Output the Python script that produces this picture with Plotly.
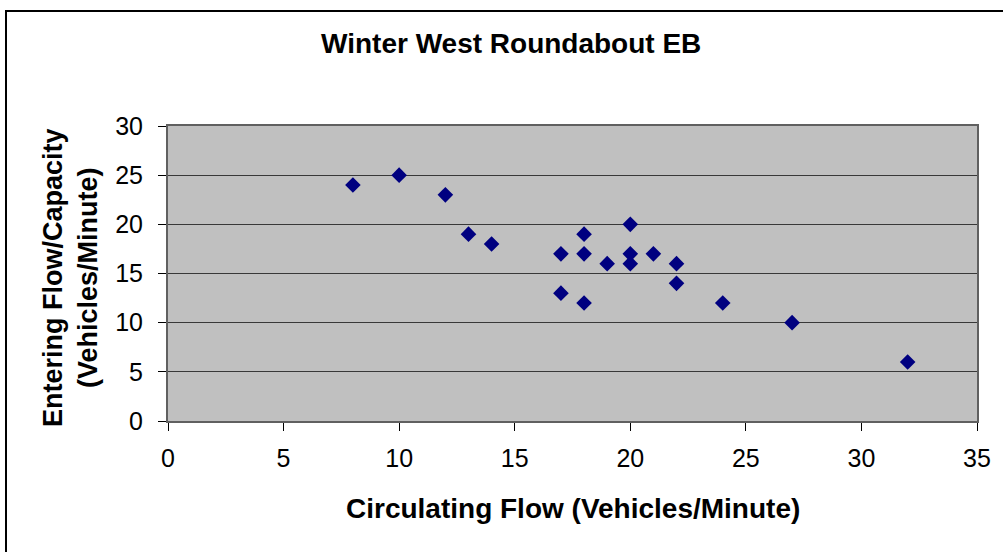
import plotly.graph_objects as go

circulating = [8, 10, 12, 13, 14, 17, 17, 18, 18, 18, 19, 20, 20, 20, 21, 22, 22, 24, 27, 32]
entering = [24, 25, 23, 19, 18, 17, 13, 19, 17, 12, 16, 20, 17, 16, 17, 16, 14, 12, 10, 6]

x_ticks = [0, 5, 10, 15, 20, 25, 30, 35]
y_ticks = [0, 5, 10, 15, 20, 25, 30]

title_text = "Winter West Roundabout EB"
x_title = "Circulating Flow (Vehicles/Minute)"
y_title = "Entering Flow/Capacity<br>(Vehicles/Minute)"

FONT = "Liberation Sans, Arial, sans-serif"
W, H = 1003, 552
L, R, T, B = 168, 26, 126, 131
pw, ph = W - L - R, H - T - B

def px(xp):
    return (xp - L) / pw

def py(yp):
    return (H - B - yp) / ph

fig = go.Figure()
fig.add_trace(go.Scatter(
    x=circulating, y=entering, mode="markers",
    marker=dict(symbol="diamond", color="#000080", size=12, line=dict(width=0)),
    showlegend=False, cliponaxis=False, hoverinfo="skip",
))

fig.update_layout(
    width=W, height=H,
    margin=dict(l=L, r=R, t=T, b=B, pad=0),
    paper_bgcolor="white",
    plot_bgcolor="#C0C0C0",
    font=dict(family=FONT, color="black"),
    xaxis=dict(
        range=[0, 35], tickvals=x_ticks, ticktext=[str(v) for v in x_ticks],
        showgrid=False, zeroline=False, fixedrange=True,
        showline=True, linecolor="#606060", linewidth=2, mirror=True,
        ticks="outside", ticklen=8, tickcolor="black", tickwidth=1,
        tickfont=dict(size=25, family=FONT), ticklabelstandoff=6,
    ),
    yaxis=dict(
        range=[0, 30], tickvals=y_ticks, ticktext=[str(v) for v in y_ticks],
        showgrid=True, gridcolor="#383838", gridwidth=1, zeroline=False,
        fixedrange=True,
        showline=True, linecolor="#606060", linewidth=2, mirror=True,
        ticks="outside", ticklen=8, tickcolor="black", tickwidth=1,
        tickfont=dict(size=25, family=FONT), ticklabelstandoff=10,
    ),
    annotations=[
        dict(text="<b>" + title_text + "</b>", x=px(511), y=py(43),
             xref="paper", yref="paper", showarrow=False,
             xanchor="center", yanchor="middle",
             font=dict(size=28, family=FONT, color="black")),
        dict(text="<b>" + x_title + "</b>", x=px(573), y=py(508),
             xref="paper", yref="paper", showarrow=False,
             xanchor="center", yanchor="middle",
             font=dict(size=28, family=FONT, color="black")),
        dict(text="<b>" + y_title + "</b>", x=px(70), y=py(278),
             xref="paper", yref="paper", showarrow=False, textangle=-90,
             xanchor="center", yanchor="middle",
             font=dict(size=27, family=FONT, color="black")),
    ],
    shapes=[
        dict(type="rect", xref="paper", yref="paper",
             x0=px(6), x1=px(1060), y0=py(11), y1=py(620),
             line=dict(color="black", width=2), fillcolor="rgba(0,0,0,0)",
             layer="above"),
    ],
)

fig.write_html(
    "out.html",
    config={"displayModeBar": False, "staticPlot": True},
    post_script="document.body.style.margin='0';document.body.style.overflow='hidden';",
)
